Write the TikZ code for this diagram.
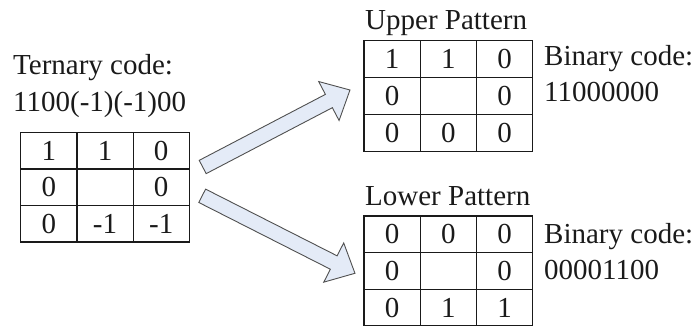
\documentclass[tikz,border=0pt]{standalone}
\usepackage{fontspec}
\setmainfont{Liberation Serif}
\definecolor{arrowfill}{HTML}{E4EBF7}
\definecolor{arrowline}{HTML}{505050}
\definecolor{ink}{HTML}{1A1A1A}
\begin{document}
\begin{tikzpicture}[x=1pt,y=-1pt,
  cell/.style={draw=ink, line width=1.2pt, minimum width=56.2pt, minimum height=36.7pt,
    inner sep=0pt, text=ink, font=\fontsize{29}{34}\selectfont, anchor=center},
  lbl/.style={anchor=base west, inner sep=0pt, text=ink, font=\fontsize{29}{34}\selectfont},
  bigarrow/.style={draw=arrowline, line width=0.9pt, fill=arrowfill, line join=miter}]
\useasboundingbox (0,0) rectangle (697,329);

% left ternary grid
\foreach \c/\r/\t in {0/0/1,1/0/1,2/0/0, 0/1/0,1/1/{},2/1/0, 0/2/0,1/2/-1,2/2/-1}
  \node[cell] (T-\c-\r) at ({20.7+56.2*(\c+0.5)},{132.3+36.5*(\r+0.5)}) {\t};

% upper pattern grid
\foreach \c/\r/\t in {0/0/1,1/0/1,2/0/0, 0/1/0,1/1/{},2/1/0, 0/2/0,1/2/0,2/2/0}
  \node[cell] (U-\c-\r) at ({364+56.2*(\c+0.5)},{40.7+37*(\r+0.5)}) {\t};

% lower pattern grid
\foreach \c/\r/\t in {0/0/0,1/0/0,2/0/0, 0/1/0,1/1/{},2/1/0, 0/2/0,1/2/1,2/2/1}
  \node[cell] (D-\c-\r) at ({364+56.2*(\c+0.5)},{216+36.6*(\r+0.5)}) {\t};

% labels
\node[lbl] (tern1) at (13,75) {Ternary code:};
\node[lbl] (tern2) at (13,111) {1100(-1)(-1)00};
\node[lbl] (uptitle) at (365,30) {Upper Pattern};
\node[lbl] (lowtitle) at (365,205) {Lower Pattern};
\node[lbl] (ubin1) at (544,66) {Binary code:};
\node[lbl] (ubin2) at (544,102) {11000000};
\node[lbl] (lbin1) at (544,243) {Binary code:};
\node[lbl] (lbin2) at (544,279) {00001100};

% block arrows
\draw[bigarrow, shift={(202.7,167)}, rotate=27.6]
  (0,-7.5) -- (142.4,-7.5) -- (142.4,-22) -- (166.2,0) -- (142.4,22) -- (142.4,7.5) -- (0,7.5) -- cycle;
\draw[bigarrow, shift={(202.2,195.8)}, rotate=-26.9]
  (0,-7.5) -- (147.5,-7.5) -- (147.5,-22) -- (171.3,0) -- (147.5,22) -- (147.5,7.5) -- (0,7.5) -- cycle;
\end{tikzpicture}
\end{document}
